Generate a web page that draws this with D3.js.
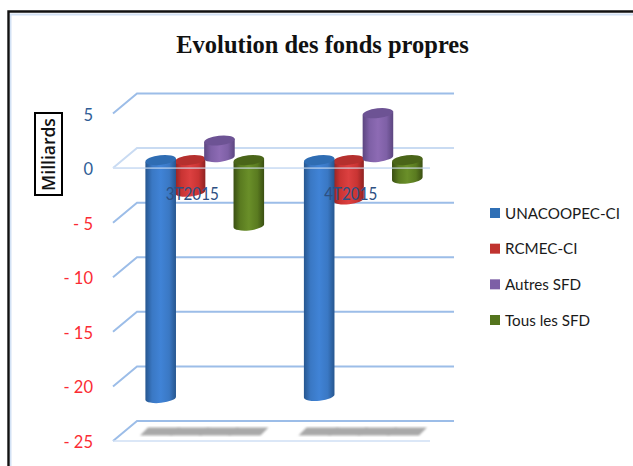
<!DOCTYPE html>
<html>
<head>
<meta charset="utf-8">
<script src="https://cdn.jsdelivr.net/npm/d3@7"></script>
<style>
html, body { margin: 0; padding: 0; background: #fff; overflow: hidden; }
svg { display: block; }
</style>
</head>
<body>
<div id="chart"></div>
<script>
var categories = ["3T2015", "4T2015"];
var seriesNames = ["UNACOOPEC-CI", "RCMEC-CI", "Autres SFD", "Tous les SFD"];
var unacoopec = [-21.8, -21.6];
var rcmec = [-2.9, -3.6];
var autres = [1.8, 4.3];
var tousSfd = [-6, -1.7];
var yTicks = [5, 0, -5, -10, -15, -20, -25];

var seriesValues = [unacoopec, rcmec, autres, tousSfd];
var bodyColors = [
    ["#26568f", "#3a78c4", "#4083d6"],
    ["#8f2322", "#c93433", "#dc4040"],
    ["#5c4680", "#7e60a6", "#8d6bb4"],
    ["#3a4f12", "#5a7b20", "#6a8f29"]
];
var capColors = ["#2f6db3", "#b5302e", "#6d5394", "#4a6519"];
var swatchColors = ["#2f6fb5", "#c0332f", "#7d5fa6", "#54741d"];
var drawOrder = [1, 0, 2, 3];      // blue sits over red in the picture

var width = 633, height = 466;
var depthY = -20;                  // walls offset, front to back
var barShiftY = -8;                // bars stand halfway between front and back
var positiveBaseLift = 3;          // bars above zero start a bit higher

var svg = d3.select("#chart").append("svg")
    .attr("width", width)
    .attr("height", height);

var defs = svg.append("defs");
bodyColors.forEach(function (c, i) {
    var g = defs.append("linearGradient").attr("id", "body" + i);
    g.append("stop").attr("offset", "0%").attr("stop-color", c[0]);
    g.append("stop").attr("offset", "22%").attr("stop-color", c[1]);
    g.append("stop").attr("offset", "50%").attr("stop-color", c[2]);
    g.append("stop").attr("offset", "78%").attr("stop-color", c[1]);
    g.append("stop").attr("offset", "100%").attr("stop-color", c[0]);
});
defs.append("filter").attr("id", "soft")
    .append("feGaussianBlur").attr("stdDeviation", 0.8);

// frame: only top and left are visible
svg.append("path").attr("d", "M10.5,466V14.5H633")
    .attr("fill", "none").attr("stroke", "#d3e2f5").attr("stroke-width", 2);
svg.append("path").attr("d", "M8.5,466V11.5H633")
    .attr("fill", "none").attr("stroke", "#111").attr("stroke-width", 2.4);

var y = d3.scaleLinear().domain([-25, 5]).range([441, 113.5]);
var x0 = d3.scaleBand().domain(categories).range([125, 442]);
var x1 = d3.scaleBand().domain(d3.range(seriesNames.length))
    .range([21, 138.5]);

// grid lines with their little return on the side wall
var grid = svg.append("g");
yTicks.forEach(function (t) {
    var yf = y(t);
    grid.append("path")
        .attr("d", "M113," + yf + "L137," + (yf + depthY) + "H454")
        .attr("fill", "none")
        .attr("stroke", t === 0 ? "#c9dbf2" : "#9cbde8")
        .attr("stroke-width", 2);
    if (t === 0 || t === -25) {
        grid.append("line")
            .attr("x1", 113).attr("x2", 430)
            .attr("y1", yf).attr("y2", yf)
            .attr("stroke", "#cfdff4")
            .attr("stroke-width", 1.6);
    }
});

// axis labels
svg.append("g").selectAll("text")
    .data(yTicks)
    .enter().append("text")
    .attr("x", 93)
    .attr("y", function (d) { return y(d) + 7; })
    .attr("text-anchor", "end")
    .attr("font-family", "Lato, 'Open Sans', sans-serif")
    .attr("font-size", 16.5)
    .attr("fill", function (d) { return d < 0 ? "#fb2b33" : "#2f5d96"; })
    .text(function (d) { return d < 0 ? "- " + Math.abs(d) : d; });

// shadows on the floor
var shadows = svg.append("g").attr("filter", "url(#soft)").attr("fill", "#a9a9a9");
categories.forEach(function (cat) {
    seriesNames.forEach(function (s, i) {
        var left = x0(cat) + x1(i);
        var w = x1.bandwidth();
        var yb = y(-25) - 5.5, yt = y(-25) - 13.5;
        shadows.append("path")
            .attr("d", "M" + (left - 6) + "," + yb + "L" + (left + 2) + "," + yt
                + "H" + (left + w + 5) + "L" + (left + w - 3) + "," + yb + "Z");
    });
});

// cylinders
var rx = x1.bandwidth() / 2 + 0.6, ry = 4.8, tilt = 1.6, rot = -6;
var bars = svg.append("g");
categories.forEach(function (cat, c) {
    drawOrder.forEach(function (i) {
        var v = seriesValues[i][c];
        var cx = x0(cat) + x1(i) + x1.bandwidth() / 2;
        var top = y(Math.max(v, 0)) + barShiftY;
        var bot = y(Math.min(v, 0)) + barShiftY - (v > 0 ? positiveBaseLift : 0);
        var l = cx - rx, r = cx + rx;
        bars.append("path")
            .attr("d", "M" + l + "," + (top + tilt) + "L" + l + "," + (bot + tilt)
                + "A" + rx + "," + ry + " " + rot + " 0 0 " + r + "," + (bot - tilt)
                + "L" + r + "," + (top - tilt) + "Z")
            .attr("fill", "url(#body" + i + ")");
        bars.append("ellipse")
            .attr("rx", rx).attr("ry", ry)
            .attr("transform", "translate(" + cx + "," + top + ") rotate(" + rot + ")")
            .attr("fill", capColors[i]);
    });
});

// pale zero line passes in front of the bars
svg.append("line")
    .attr("x1", 113).attr("x2", 430)
    .attr("y1", y(0)).attr("y2", y(0))
    .attr("stroke", "#d5e3f6").attr("stroke-width", 1.6).attr("opacity", 0.6);

// category labels sit just under the zero line, over the bars
svg.append("g").selectAll("text")
    .data(categories)
    .enter().append("text")
    .attr("x", function (d) { return x0(d) + x0.bandwidth() / 2 - 12; })
    .attr("y", y(0) + 32)
    .attr("text-anchor", "middle")
    .attr("font-family", "Lato, 'Open Sans', sans-serif")
    .attr("font-size", 16.5)
    .attr("fill", "#2d4f82")
    .attr("textLength", 53)
    .attr("lengthAdjust", "spacingAndGlyphs")
    .text(function (d) { return d; });

// title
svg.append("text")
    .attr("x", 322.5).attr("y", 53)
    .attr("text-anchor", "middle")
    .attr("font-family", "'Liberation Serif', serif")
    .attr("font-weight", "bold")
    .attr("font-size", 24.5)
    .attr("fill", "#111")
    .text("Evolution des fonds propres");

// unit box
svg.append("rect")
    .attr("x", 35).attr("y", 113).attr("width", 27).attr("height", 82)
    .attr("fill", "#fff").attr("stroke", "#000").attr("stroke-width", 2);
svg.append("text")
    .attr("transform", "translate(54.5,154.5) rotate(-90)")
    .attr("text-anchor", "middle")
    .attr("font-family", "'Open Sans', sans-serif")
    .attr("font-weight", 600)
    .attr("font-size", 17.5)
    .attr("fill", "#111")
    .text("Milliards");

// legend
var legendY = d3.scalePoint().domain(seriesNames).range([213, 320]);
var legend = svg.append("g").selectAll("g")
    .data(seriesNames)
    .enter().append("g")
    .attr("transform", function (d) { return "translate(490," + legendY(d) + ")"; });
legend.append("rect")
    .attr("x", 0).attr("y", -5).attr("width", 10).attr("height", 10)
    .attr("fill", function (d, i) { return swatchColors[i]; });
legend.append("text")
    .attr("x", 15).attr("y", 5.5)
    .attr("font-family", "Lato, 'Open Sans', sans-serif")
    .attr("font-size", 16)
    .attr("fill", "#1a1a1a")
    .text(function (d) { return d; })
    .attr("lengthAdjust", "spacingAndGlyphs")
    .attr("textLength", function () { return this.getComputedTextLength() * 0.95; });
</script>
</body>
</html>
